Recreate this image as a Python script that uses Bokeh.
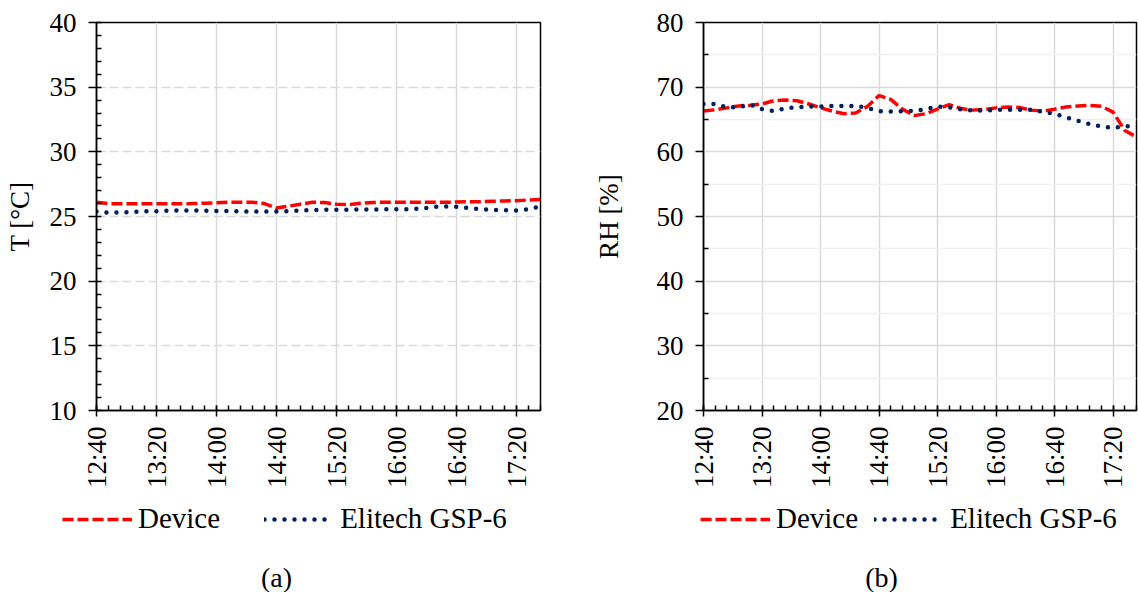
import math
from bokeh.plotting import figure
from bokeh.models import FixedTicker, Legend, LegendItem, Label, Range1d
from bokeh.layouts import row, column
from bokeh.embed import file_html
from bokeh.resources import INLINE

# ---------------- data ----------------
times = ["12:40", "12:48", "12:56", "13:04", "13:12", "13:20", "13:28", "13:36",
         "13:44", "13:52", "14:00", "14:08", "14:16", "14:24", "14:32", "14:40",
         "14:48", "14:56", "15:04", "15:12", "15:20", "15:28", "15:36", "15:44",
         "15:52", "16:00", "16:08", "16:16", "16:24", "16:32", "16:40", "16:48",
         "16:56", "17:04", "17:12", "17:20", "17:28", "17:36"]
tick_labels = ["12:40", "13:20", "14:00", "14:40", "15:20", "16:00", "16:40", "17:20"]

t_device = [26.10, 26.00, 25.98, 25.98, 25.98, 25.98, 25.98, 25.98, 26.00, 26.03,
            26.06, 26.10, 26.10, 26.10, 26.00, 25.65, 25.80, 25.95, 26.10, 26.08,
            25.95, 25.92, 26.02, 26.08, 26.10, 26.10, 26.10, 26.10, 26.10, 26.10,
            26.12, 26.15, 26.15, 26.18, 26.20, 26.22, 26.28, 26.32]
t_elitech = [25.38, 25.30, 25.30, 25.35, 25.40, 25.40, 25.46, 25.47, 25.47, 25.45,
             25.42, 25.42, 25.40, 25.39, 25.39, 25.39, 25.42, 25.47, 25.50, 25.52,
             25.52, 25.53, 25.55, 25.55, 25.55, 25.56, 25.57, 25.60, 25.73, 25.78,
             25.75, 25.66, 25.56, 25.52, 25.48, 25.47, 25.55, 25.78]

rh_device = [66.3, 66.5, 66.8, 67.1, 67.2, 67.4, 67.9, 68.0, 67.9, 67.4,
             66.8, 66.3, 65.9, 66.0, 67.0, 68.7, 68.1, 66.6, 65.6, 65.9,
             66.6, 67.3, 66.7, 66.45, 66.55, 66.8, 66.95, 66.85, 66.45, 66.3,
             66.6, 66.95, 67.1, 67.17, 67.05, 66.14, 63.3, 62.3]
rh_elitech = [67.4, 67.4, 66.9, 66.9, 67.3, 66.6, 66.3, 66.7, 66.9, 67.0,
              67.0, 67.1, 67.1, 67.1, 66.8, 66.3, 66.25, 66.3, 66.3, 66.6,
              67.0, 66.9, 66.55, 66.4, 66.4, 66.5, 66.5, 66.5, 66.5, 66.2,
              65.9, 65.3, 64.8, 64.3, 63.9, 63.7, 64.0, 63.8]

series_names = ["Device", "Elitech GSP-6"]

FONT = "Liberation Serif"
RED = "#FF0000"
NAVY = "#002060"
GRID = "#d9d9d9"
DEV_STYLE = dict(line_color=RED, line_width=3.5, line_dash="11 4")
ELI_STYLE = dict(line_color=NAVY, line_width=4.5, line_dash="0 10", line_cap="round")
NAN = float("nan")


def to_min(s):
    h, m = s.split(":")
    return int(h) * 60 + int(m)


xs = [to_min(t) for t in times]
majors = [to_min(t) for t in tick_labels]


def make_panel(dev, eli, ylim, ymajor, yminor, ylabel, frame_w, left, right,
               ylabel_standoff, dashed_hgrid):
    p = figure(frame_width=frame_w, frame_height=388,
               x_range=Range1d(xs[0], xs[-1]), y_range=Range1d(*ylim),
               output_backend="svg", toolbar_location=None,
               min_border_left=left, min_border_right=right,
               min_border_top=22, min_border_bottom=90)
    p.background_fill_color = "white"
    p.border_fill_color = "white"
    p.outline_line_color = "black"
    p.outline_line_width = 1.5

    p.xaxis.ticker = FixedTicker(ticks=majors, minor_ticks=xs)
    p.xaxis.major_label_overrides = {m: l for m, l in zip(majors, tick_labels)}
    p.xaxis.major_label_orientation = math.pi / 2
    p.xaxis.major_tick_in = 5
    p.xaxis.major_tick_out = 6
    p.xaxis.minor_tick_in = 5
    p.xaxis.minor_tick_out = 0
    p.xaxis.major_label_standoff = 10

    p.yaxis.ticker = FixedTicker(ticks=ymajor, minor_ticks=yminor)
    p.yaxis.major_tick_in = 0
    p.yaxis.major_tick_out = 8
    p.yaxis.minor_tick_in = 5
    p.yaxis.minor_tick_out = 0
    p.yaxis.major_label_standoff = 12
    p.yaxis.axis_label = ylabel
    p.yaxis.axis_label_standoff = ylabel_standoff

    for ax in (p.xaxis[0], p.yaxis[0]):
        ax.axis_line_color = "black"
        ax.axis_line_width = 1.5
        ax.major_tick_line_color = "black"
        ax.major_tick_line_width = 1.5
        ax.minor_tick_line_color = "black"
        ax.minor_tick_line_width = 1.5
        ax.major_label_text_font = FONT
        ax.major_label_text_font_size = "27px"
        ax.major_label_text_color = "black"
        ax.axis_label_text_font = FONT
        ax.axis_label_text_font_size = "27px"
        ax.axis_label_text_font_style = "normal"
        ax.axis_label_text_color = "black"

    p.xgrid.grid_line_color = GRID
    p.xgrid.grid_line_width = 1.5
    p.ygrid.grid_line_color = GRID
    p.ygrid.grid_line_width = 1.5
    if dashed_hgrid:
        p.ygrid.grid_line_dash = "9 4"
    else:
        p.ygrid.minor_grid_line_color = "#f0f0f0"
        p.ygrid.minor_grid_line_width = 1.5

    p.line(xs, dev, **DEV_STYLE)
    p.line(xs, eli, **ELI_STYLE)
    return p


def make_legend_panel(width, legend_x, spacing, caption, caption_x):
    h = 92
    q = figure(width=width, height=h, x_range=Range1d(0, 1), y_range=Range1d(0, 1),
               x_axis_type=None, y_axis_type=None,
               output_backend="svg", toolbar_location=None,
               min_border=0)
    q.grid.visible = False
    q.outline_line_color = None
    q.background_fill_color = "white"
    q.border_fill_color = "white"
    # legend sample renderers (they draw nothing in the panel itself)
    s1 = q.line(x=[NAN], y=[NAN], **DEV_STYLE)
    s2 = q.line(x=[NAN], y=[NAN], **ELI_STYLE)
    legend = Legend(items=[LegendItem(label=series_names[0], renderers=[s1]),
                           LegendItem(label=series_names[1], renderers=[s2])],
                    orientation="horizontal", location=(legend_x, 57),
                    glyph_width=70, glyph_height=20, label_standoff=6,
                    spacing=spacing, padding=0, margin=0,
                    border_line_alpha=0, background_fill_alpha=0,
                    label_text_font=FONT, label_text_font_size="29px",
                    label_text_color="black")
    q.add_layout(legend)
    q.add_layout(Label(x=caption_x, y=15, x_units="screen", y_units="screen",
                       text=caption, text_align="center", text_baseline="middle",
                       text_font=FONT, text_font_size="28px", text_color="black"))
    return q


p1 = make_panel(t_device, t_elitech, (10, 40), [10, 15, 20, 25, 30, 35, 40],
                list(range(10, 41)), "T [°C]", frame_w=444, left=96, right=30,
                ylabel_standoff=12, dashed_hgrid=True)
p2 = make_panel(rh_device, rh_elitech, (20, 80), [20, 30, 40, 50, 60, 70, 80],
                [25, 35, 45, 55, 65, 75], "RH [%]", frame_w=433, left=133, right=2,
                ylabel_standoff=30, dashed_hgrid=False)

q1 = make_legend_panel(570, 62, 44, "(a)", 276)
q2 = make_legend_panel(568, 130, 16, "(b)", 311)

layout = column(row(p1, p2), row(q1, q2))
open("out.html", "w").write(file_html(layout, INLINE))
